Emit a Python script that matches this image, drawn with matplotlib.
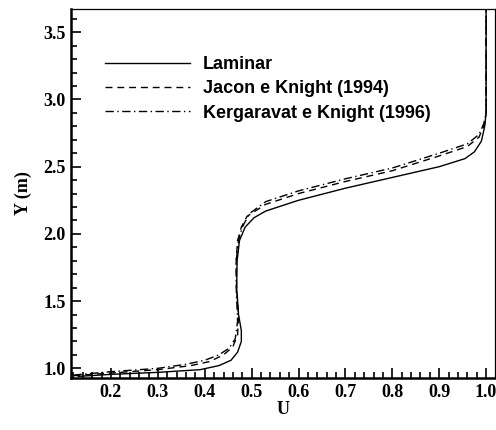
import numpy as np
import matplotlib
matplotlib.use("Agg")
from matplotlib import pyplot as plt
from matplotlib.ticker import MultipleLocator

# velocity profiles (U, Y in m)
lam_u = [0.13, 0.20, 0.30, 0.39, 0.43, 0.456, 0.470, 0.478, 0.478, 0.472, 0.468, 0.469,
         0.474, 0.486, 0.505, 0.530, 0.60, 0.70, 0.80, 0.90, 0.955, 0.975, 0.990, 0.997,
         1.0, 1.0]
lam_y = [0.94, 0.955, 0.97, 0.99, 1.02, 1.06, 1.12, 1.20, 1.28, 1.40, 1.60, 1.80,
         1.95, 2.05, 2.12, 2.17, 2.25, 2.34, 2.42, 2.50, 2.56, 2.61, 2.69, 2.80,
         2.90, 3.70]

jac_u = [0.12, 0.20, 0.30, 0.37, 0.41, 0.44, 0.46, 0.470, 0.472, 0.468, 0.467, 0.470,
         0.478, 0.490, 0.530, 0.60, 0.70, 0.80, 0.90, 0.96, 0.985, 0.997, 1.0, 1.0]
jac_y = [0.945, 0.965, 0.99, 1.02, 1.05, 1.10, 1.16, 1.25, 1.40, 1.60, 1.80, 1.95,
         2.05, 2.13, 2.22, 2.30, 2.39, 2.47, 2.58, 2.65, 2.72, 2.82, 2.90, 3.70]

ker_u = [0.12, 0.20, 0.30, 0.36, 0.40, 0.43, 0.452, 0.465, 0.470, 0.467, 0.467, 0.472,
         0.480, 0.495, 0.530, 0.60, 0.70, 0.80, 0.90, 0.96, 0.985, 0.995, 1.0, 1.0]
ker_y = [0.95, 0.975, 1.00, 1.03, 1.06, 1.10, 1.15, 1.22, 1.35, 1.60, 1.80, 1.95,
         2.05, 2.15, 2.24, 2.32, 2.41, 2.49, 2.60, 2.67, 2.74, 2.82, 2.90, 3.70]

labels = ["Laminar", "Jacon e Knight (1994)", "Kergaravat e Knight (1996)"]

fig = plt.figure(figsize=(4.96, 4.30), dpi=100)
ax = fig.add_axes([71/496, 52/430, 424/496, 369/430])

ax.plot(lam_u, lam_y, color="black", lw=1.0, ls="-", label=labels[0])
ax.plot(jac_u, jac_y, color="black", lw=1.0, ls=(0, (5, 3.5)), label=labels[1])
ax.plot(ker_u, ker_y, color="black", lw=1.0, ls=(0, (6, 2.5, 1, 2.5)), label=labels[2])

ax.set_xlim(0.1147, 1.019)
ax.set_ylim(0.928, 3.673)

ax.xaxis.set_major_locator(MultipleLocator(0.1))
ax.xaxis.set_minor_locator(MultipleLocator(0.02))
ax.yaxis.set_major_locator(MultipleLocator(0.5))
ax.yaxis.set_minor_locator(MultipleLocator(0.1))
ax.xaxis.set_major_formatter(plt.FormatStrFormatter("%.1f"))
ax.yaxis.set_major_formatter(plt.FormatStrFormatter("%.1f"))

ax.tick_params(which="both", direction="in", top=False, right=False, width=1.2)
ax.tick_params(which="major", length=7, labelsize=13, pad=4)
ax.tick_params(which="minor", length=4)
for lab in ax.get_xticklabels() + ax.get_yticklabels():
    lab.set_family("Liberation Serif")
    lab.set_fontweight("bold")

ax.spines["left"].set_linewidth(1.8)
ax.spines["bottom"].set_linewidth(1.8)
ax.spines["top"].set_linewidth(0.9)
ax.spines["right"].set_linewidth(0.9)

ax.set_xlabel("U", family="Liberation Serif", fontweight="bold", fontsize=13, labelpad=0)
ax.set_ylabel("Y (m)", family="Liberation Serif", fontweight="bold", fontsize=13, labelpad=8)

leg = ax.legend(loc="upper left", bbox_to_anchor=(0.063, 0.891), frameon=False,
                handlelength=4.7, handletextpad=0.72, labelspacing=0.39, borderaxespad=0,
                prop={"family": "Liberation Sans", "weight": "bold", "size": 13})

fig.savefig("out.png", dpi=100)
